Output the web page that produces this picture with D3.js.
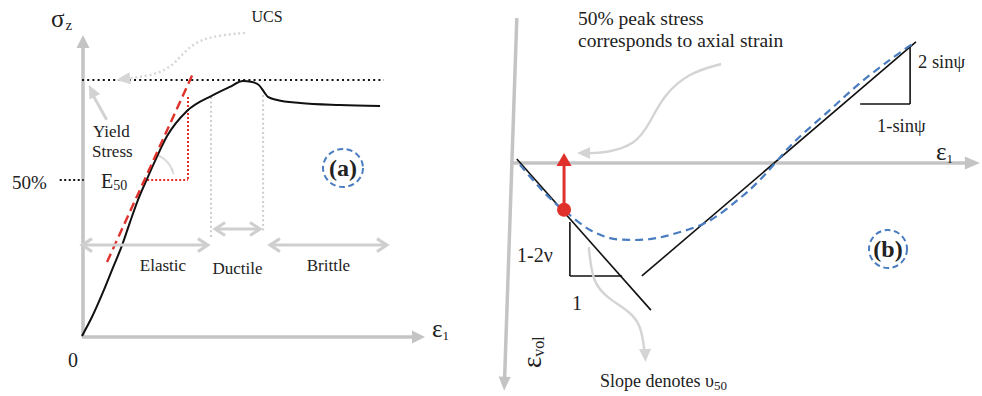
<!DOCTYPE html>
<html>
<head>
<meta charset="utf-8">
<script src="https://cdn.jsdelivr.net/npm/d3@7"></script>
<style>
  html, body { margin: 0; padding: 0; background: #fff; }
  svg { display: block; }
  text { font-family: "Liberation Serif", "Times New Roman", serif; fill: #222; }
</style>
</head>
<body>
<svg id="chart" width="982" height="396"></svg>
<script>
// ---------- Panel (a): axial stress vs axial strain ----------
const strainA = [0, 0.29, 0.64, 0.90, 1.17, 1.40, 1.63, 1.90, 2.13, 2.48, 3.06, 3.82, 4.31, 4.69, 4.96, 5.16, 5.31, 5.42, 5.69, 6.36, 7.52, 8.69];
const stressA = [0, 0.74, 1.80, 2.66, 3.55, 4.45, 5.31, 6.15, 6.84, 7.81, 8.79, 9.41, 9.73, 9.96, 9.92, 9.80, 9.53, 9.34, 9.22, 9.10, 9.02, 8.98];
const ucsLevel = 10;          // peak strength line
const halfLevel = 6.09;       // level of the E50 construction
const tangentStrain = [0.73, 3.24];
const tangentStress = [2.89, 10.27];
const e50Strain = [1.90, 3.09];
const e50Top = 9.34;
const zoneNames = ["Elastic", "Ductile", "Brittle"];
const zoneFrom = [0, 3.88, 5.48];
const zoneTo = [3.67, 5.19, 8.89];
const zoneLevel = [3.55, 4.18, 3.55];
const zoneEdgeStrain = [3.76, 5.28];
const zoneEdgeTop = [9.34, 9.41];
const zoneEdgeBottom = [3.83, 4.02];

// ---------- Panel (b): volumetric strain vs axial strain ----------
const strainB = [0.11, 0.56, 0.89, 1.16, 1.67, 2.11, 2.56, 3.00, 3.44, 4.27, 5.00, 5.44, 6.18, 7.00, 7.67, 8.33, 8.89];
const volB    = [0.04, 0.56, 0.89, 1.11, 1.49, 1.67, 1.71, 1.69, 1.60, 1.31, 0.78, 0.38, -0.44, -1.18, -1.78, -2.29, -2.69];
const elasticLineStrain = [0.04, 3.02];
const elasticLineVol = [-0.09, 3.27];
const dilationLineStrain = [2.82, 8.91];
const dilationLineVol = [2.51, -2.69];
const point50 = [1.09, 1.04];
const poissonTri = [1.22, 2.38, 1.31, 2.51];   // x0, x1, yTop, yBottom
const dilationTri = [7.67, 8.78, -2.62, -1.31]; // x0, x1, yTop, yBottom

const svg = d3.select("#chart");
const AXIS = "#c4c4c4", RED = "#e0302a", BLUE = "#4a7dc0", INK = "#111";

function unit(a, b) {
  const dx = b[0] - a[0], dy = b[1] - a[1], l = Math.hypot(dx, dy);
  return [dx / l, dy / l];
}
function solidHead(g, from, tip, len, hw, color) {
  const [ux, uy] = unit(from, tip), px = -uy, py = ux;
  const bx = tip[0] - ux * len, by = tip[1] - uy * len;
  g.append("path")
    .attr("d", `M${tip[0]},${tip[1]}L${bx + px * hw},${by + py * hw}L${bx - px * hw},${by - py * hw}Z`)
    .attr("fill", color);
}
function openHead(g, from, tip, len, hw, color, w) {
  const [ux, uy] = unit(from, tip), px = -uy, py = ux;
  const bx = tip[0] - ux * len, by = tip[1] - uy * len;
  g.append("path")
    .attr("d", `M${bx + px * hw},${by + py * hw}L${tip[0]},${tip[1]}L${bx - px * hw},${by - py * hw}`)
    .attr("fill", "none").attr("stroke", color).attr("stroke-width", w);
}
function seg(g, a, b, color, w, dash) {
  const l = g.append("line").attr("x1", a[0]).attr("y1", a[1]).attr("x2", b[0]).attr("y2", b[1])
    .attr("stroke", color).attr("stroke-width", w);
  if (dash) l.attr("stroke-dasharray", dash);
  return l;
}

// ================= Panel (a) =================
const xA = d3.scaleLinear().domain([0, 10]).range([82, 425]);
const yA = d3.scaleLinear().domain([0, 10]).range([336, 80]);
const gA = svg.append("g");

// axes
const oA = [xA(0), yA(0)];
const yTipA = [xA(0.03), yA(11.76)];
const xTipA = [xA(10), yA(-0.04)];
seg(gA, [oA[0] + 1, oA[1] + 1], [yTipA[0], yTipA[1] + 10], AXIS, 3.5);
solidHead(gA, oA, yTipA, 13, 6.5, AXIS);
seg(gA, [oA[0], oA[1] + 1], [xTipA[0] - 10, xTipA[1]], AXIS, 3.5);
solidHead(gA, [oA[0], xTipA[1]], xTipA, 13, 6.5, AXIS);

// peak (UCS) level
seg(gA, [xA(0), yA(ucsLevel)], [xA(8.8), yA(ucsLevel)], INK, 2.2, "2,3.2");
// 50% tick
seg(gA, [xA(-0.65), yA(halfLevel)], [xA(0.05), yA(halfLevel)], INK, 2, "2,2.5");

// zone boundaries
zoneEdgeStrain.forEach((s, i) => {
  seg(gA, [xA(s), yA(zoneEdgeTop[i])], [xA(s), yA(zoneEdgeBottom[i])], "#cdcdcd", 2, "2,2.6");
});

// E50 construction
seg(gA, [xA(e50Strain[1]), yA(e50Top)], [xA(e50Strain[1]), yA(halfLevel)], RED, 2, "2,2");
seg(gA, [xA(e50Strain[0]), yA(halfLevel)], [xA(e50Strain[1]), yA(halfLevel)], RED, 2, "2,2");
{
  const cx = xA(e50Strain[0]), cy = yA(halfLevel);
  const arc = d3.arc().innerRadius(27).outerRadius(27).startAngle(0.35).endAngle(1.35);
  gA.append("path").attr("d", arc()).attr("transform", `translate(${cx},${cy})`)
    .attr("fill", "none").attr("stroke", "#d4d4d4").attr("stroke-width", 2).attr("stroke-dasharray", "2,2.5");
}

// stress–strain curve
const lineA = d3.line().x((d, i) => xA(strainA[i])).y((d, i) => yA(stressA[i])).curve(d3.curveMonotoneX);
gA.append("path").attr("d", lineA(strainA)).attr("fill", "none").attr("stroke", INK).attr("stroke-width", 2);

// tangent modulus
seg(gA, [xA(tangentStrain[0]), yA(tangentStress[0])], [xA(tangentStrain[1]), yA(tangentStress[1])], RED, 2.4, "9,5");

// zone arrows
zoneNames.forEach((name, i) => {
  const a = [xA(zoneFrom[i]), yA(zoneLevel[i])], b = [xA(zoneTo[i]), yA(zoneLevel[i])];
  seg(gA, a, b, "#cfcfcf", 3);
  openHead(gA, b, a, 10, 6.5, "#cfcfcf", 3);
  openHead(gA, a, b, 10, 6.5, "#cfcfcf", 3);
});
const zoneLabelDy = [26, 45, 26];
zoneNames.forEach((name, i) => {
  gA.append("text").attr("x", (xA(zoneFrom[i]) + xA(zoneTo[i])) / 2 + (i === 0 ? 18 : 0))
    .attr("y", yA(zoneLevel[i]) + zoneLabelDy[i]).attr("text-anchor", "middle")
    .attr("font-size", 17).text(name);
});

// "Yield Stress" pointer
{
  const from = [xA(0.72), yA(8.45)], tip = [xA(0.2), yA(9.8)];
  seg(gA, from, [tip[0] + 3, tip[1] + 8], "#d2d2d2", 3);
  solidHead(gA, from, tip, 13, 6, "#d2d2d2");
}
// UCS pointer (dotted curve)
{
  const pts = [[xA(4.75), yA(11.84)], [xA(3.6), yA(11.7)], [xA(3.03), yA(11.2)], [xA(2.62), yA(10.5)], [xA(2.05), yA(10.18)], [xA(1.35), yA(10.06)]];
  gA.append("path").attr("d", d3.line().curve(d3.curveBasis)(pts))
    .attr("fill", "none").attr("stroke", "#d6d6d6").attr("stroke-width", 2.4).attr("stroke-dasharray", "2,2.8");
  solidHead(gA, pts[pts.length - 1], [xA(1.0), yA(10.0)], 14, 6, "#d6d6d6");
}

// labels (a)
const sig = gA.append("text").attr("x", 51).attr("y", 27).attr("font-size", 25);
sig.append("tspan").text("σ");
sig.append("tspan").attr("font-size", 15).attr("dx", 1).attr("dy", 3).text("z");
const epsA = gA.append("text").attr("x", 432).attr("y", 337).attr("font-size", 25);
epsA.append("tspan").text("ε");
epsA.append("tspan").attr("font-size", 13).attr("dy", 3).text("1");
gA.append("text").attr("x", 73).attr("y", 367).attr("text-anchor", "middle").attr("font-size", 20).text("0");
gA.append("text").attr("x", 12).attr("y", 189).attr("font-size", 19).text("50%");
const e50 = gA.append("text").attr("x", 101).attr("y", 188).attr("font-size", 20);
e50.append("tspan").text("E");
e50.append("tspan").attr("font-size", 14).attr("dy", 2).text("50");
gA.append("text").attr("x", 93).attr("y", 137).attr("font-size", 17).text("Yield");
gA.append("text").attr("x", 92).attr("y", 157).attr("font-size", 17).text("Stress");
gA.append("text").attr("x", 267).attr("y", 22).attr("text-anchor", "middle").attr("font-size", 16).text("UCS");

// panel tag (a)
gA.append("ellipse").attr("cx", 343).attr("cy", 168).attr("rx", 20).attr("ry", 19)
  .attr("fill", "none").attr("stroke", BLUE).attr("stroke-width", 2).attr("stroke-dasharray", "6,3.5");
gA.append("text").attr("x", 343).attr("y", 176).attr("text-anchor", "middle").attr("font-size", 24)
  .attr("font-weight", "bold").text("(a)");

// ================= Panel (b) =================
const xB = d3.scaleLinear().domain([0, 10]).range([515, 965]);
const yB = d3.scaleLinear().domain([0, 5]).range([163, 388]);
const gB = svg.append("g");

// axes
const hTip = [xB(10.33), yB(0)];
seg(gB, [xB(-0.07), yB(0)], [hTip[0] - 10, hTip[1]], AXIS, 3.5);
solidHead(gB, [xB(0), yB(0)], hTip, 15, 6.5, AXIS);
const vTop = [xB(0.04), yB(-3.22)], vTip = [xB(-0.24), yB(5.06)];
{
  const [ux, uy] = unit(vTop, vTip);
  seg(gB, vTop, [vTip[0] - ux * 10, vTip[1] - uy * 10], AXIS, 3.5);
  solidHead(gB, vTop, vTip, 14, 6, AXIS);
}

// Poisson slope triangle
seg(gB, [xB(poissonTri[0]), yB(poissonTri[2])], [xB(poissonTri[0]), yB(poissonTri[3])], INK, 1.6);
seg(gB, [xB(poissonTri[0]), yB(poissonTri[3])], [xB(poissonTri[1]), yB(poissonTri[3])], INK, 1.6);
// dilation slope triangle
seg(gB, [xB(dilationTri[1]), yB(dilationTri[2])], [xB(dilationTri[1]), yB(dilationTri[3])], INK, 1.6);
seg(gB, [xB(dilationTri[0]), yB(dilationTri[3])], [xB(dilationTri[1]), yB(dilationTri[3])], INK, 1.6);

// asymptotic lines
seg(gB, [xB(elasticLineStrain[0]), yB(elasticLineVol[0])], [xB(elasticLineStrain[1]), yB(elasticLineVol[1])], INK, 1.6);
seg(gB, [xB(dilationLineStrain[0]), yB(dilationLineVol[0])], [xB(dilationLineStrain[1]), yB(dilationLineVol[1])], INK, 1.6);

// volumetric strain curve
const lineB = d3.line().x((d, i) => xB(strainB[i])).y((d, i) => yB(volB[i])).curve(d3.curveCatmullRom.alpha(0.5));
gB.append("path").attr("d", lineB(strainB)).attr("fill", "none").attr("stroke", BLUE)
  .attr("stroke-width", 2.2).attr("stroke-dasharray", "8,5");

// 50% peak stress marker
{
  const p = [xB(point50[0]), yB(point50[1])], tip = [xB(point50[0]), yB(-0.22)];
  seg(gB, p, [tip[0], tip[1] + 10], RED, 3);
  solidHead(gB, p, tip, 13, 7.5, RED);
  gB.append("circle").attr("cx", p[0]).attr("cy", p[1]).attr("r", 7).attr("fill", RED);
}

// annotation pointers
{
  const pts = [[xB(4.58), yB(-2.2)], [xB(3.85), yB(-2.0)], [xB(3.3), yB(-1.5)], [xB(3.0), yB(-0.9)],
               [xB(2.68), yB(-0.4)], [xB(2.0), yB(-0.22)], [xB(1.6), yB(-0.22)]];
  gB.append("path").attr("d", d3.line().curve(d3.curveBasis)(pts))
    .attr("fill", "none").attr("stroke", "#d4d4d4").attr("stroke-width", 2.4);
  solidHead(gB, pts[pts.length - 1], [xB(1.38), yB(-0.22)], 13, 6, "#d4d4d4");
}
{
  const pts = [[xB(1.64), yB(1.87)], [xB(1.72), yB(2.65)], [xB(2.05), yB(3.0)], [xB(2.55), yB(3.3)],
               [xB(2.8), yB(3.6)], [xB(2.88), yB(4.2)]];
  gB.append("path").attr("d", d3.line().curve(d3.curveBasis)(pts))
    .attr("fill", "none").attr("stroke", "#d4d4d4").attr("stroke-width", 2.4);
  solidHead(gB, [xB(2.88), yB(3.9)], [xB(2.9), yB(4.42)], 13, 6, "#d4d4d4");
}

// labels (b)
gB.append("text").attr("x", 578).attr("y", 25).attr("font-size", 19.5).text("50% peak stress");
gB.append("text").attr("x", 578).attr("y", 47).attr("font-size", 19.5).text("corresponds to axial strain");
gB.append("text").attr("x", 517).attr("y", 262).attr("font-size", 20).text("1-2ν");
gB.append("text").attr("x", 572).attr("y", 310).attr("font-size", 20).text("1");
gB.append("text").attr("x", 918).attr("y", 68).attr("font-size", 18.5).text("2 sinψ");
gB.append("text").attr("x", 877).attr("y", 132).attr("font-size", 18.5).text("1-sinψ");
const sl = gB.append("text").attr("x", 600).attr("y", 387).attr("font-size", 18);
sl.append("tspan").text("Slope denotes υ");
sl.append("tspan").attr("font-size", 13).attr("dy", 3).text("50");
const epsB = gB.append("text").attr("x", 936).attr("y", 160).attr("font-size", 25);
epsB.append("tspan").text("ε");
epsB.append("tspan").attr("font-size", 13).attr("dy", 3).text("1");
const ev = gB.append("text").attr("transform", "translate(541,368) rotate(-90)").attr("font-size", 27);
ev.append("tspan").text("ε");
ev.append("tspan").attr("font-size", 16).attr("dy", 3).text("vol");

// panel tag (b)
gB.append("ellipse").attr("cx", 888).attr("cy", 249).attr("rx", 19).attr("ry", 19)
  .attr("fill", "none").attr("stroke", BLUE).attr("stroke-width", 2).attr("stroke-dasharray", "6,3.5");
gB.append("text").attr("x", 888).attr("y", 257).attr("text-anchor", "middle").attr("font-size", 24)
  .attr("font-weight", "bold").text("(b)");
</script>
</body>
</html>
